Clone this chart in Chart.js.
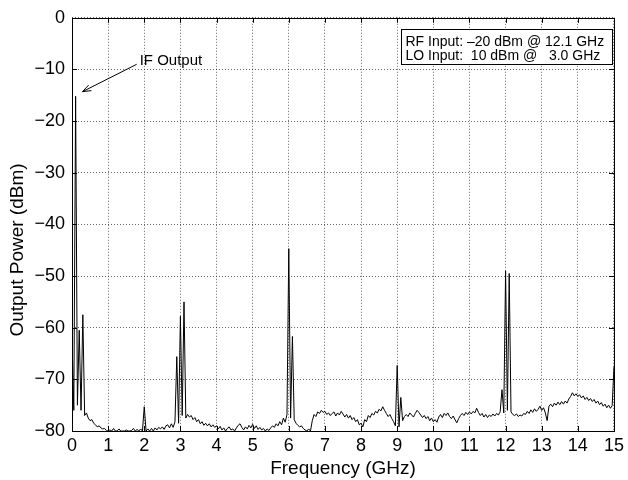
<!DOCTYPE html>
<html><head><meta charset="utf-8">
<script src="https://cdn.jsdelivr.net/npm/chart.js@4"></script>
<style>html,body{margin:0;padding:0;background:#fff}canvas{display:block}</style>
</head><body>
<canvas id="c" width="628" height="480"></canvas>
<script>
// Sample grid of the spectrum trace (GHz)
const freqStartGHz = 0;
const freqStepGHz = 0.05;
// Measured output power (dBm), one row per GHz (20 samples each), last value at 15 GHz
const powerDbm = [
  -62, -76, -15.2, -75, -60.5, -76, -57.5, -77, -76.5, -77.5, -78, -77.8, -78.5, -78.8, -79.2, -79, -79.4, -79.6, -79.5, -79.9,
  -80, -79.8, -80, -79.5, -80, -80, -79.6, -80, -80, -80, -79.8, -80, -80, -79.9, -79.5, -80, -79.7, -80, -79.6, -80,
  -75.3, -80, -79.6, -80, -79.5, -80, -79.4, -79.8, -79.3, -79.6, -79.2, -79.7, -79, -78.8, -79.4, -78.6, -79.3, -78.2, -65.6, -78.5,
  -57.8, -77, -55, -77.5, -76.8, -77.3, -77, -77.8, -77.4, -78.2, -77.8, -78.6, -78.2, -78.9, -78.5, -79, -78.6, -79.2, -78.8, -79.3,
  -79, -79.6, -79.1, -79.8, -79.4, -80, -79.5, -79.2, -79.8, -79.6, -80, -79.4, -78.9, -78.6, -79.3, -79.8, -79.2, -79.6, -78.9, -79.4,
  -78.7, -79.5, -79, -79.7, -79.3, -79.8, -79.5, -80, -79.6, -79.9, -79.4, -79, -79.3, -78.6, -79, -78.2, -78.8, -77.5, -78.3, -76.8,
  -44.7, -77.5, -61.7, -77.8, -78.5, -78.9, -79.2, -79, -79.5, -79.8, -80, -79.6, -80, -78, -76.8, -77.2, -76.3, -76.6, -76, -76.4,
  -76.2, -76.8, -76.5, -77, -76.6, -76.3, -77.1, -76.5, -76.9, -76.2, -76.7, -77.3, -76.8, -77.5, -77, -77.8, -77.4, -78.2, -77.8, -78.8,
  -78.5, -79.2, -77.8, -78.2, -77, -77.4, -76.6, -76.9, -76.2, -76.5, -75.8, -76.1, -75.3, -76, -76.6, -77.2, -76.8, -77.6, -78.2, -79,
  -67.3, -79.2, -73.5, -78, -77.2, -76.8, -77.2, -76.5, -76.9, -77.3, -76.6, -76, -76.4, -76.9, -77.4, -77, -77.6, -77.2, -78, -77.5,
  -78.2, -77.8, -78.3, -77.3, -76.8, -77.4, -76.6, -77, -76.5, -77.2, -77.6, -77.1, -77.8, -78.4, -77.6, -77, -76.6, -77, -76.4, -76.8,
  -76.3, -76.7, -76.2, -76.5, -75.6, -76.4, -77, -76.6, -77.3, -76.8, -77.4, -76.9, -77.2, -76.7, -77.1, -76.6, -76.9, -76.3, -72, -76.5,
  -49, -76, -49.5, -76.3, -76.8, -77, -76.7, -77.2, -76.9, -77.1, -76.6, -76.8, -76.2, -76.6, -75.9, -76.4, -75.7, -76.2, -75.8, -75.2,
  -76, -75.5, -76.5, -78, -75.2, -74.8, -75.3, -74.6, -75, -74.4, -74.9, -74.3, -74.8, -74.2, -74.6, -73.8, -73.3, -72.6, -73.2, -72.8,
  -73.3, -73, -73.6, -73.2, -73.9, -73.5, -74.1, -73.7, -74.3, -73.9, -74.6, -74.2, -74.9, -74.5, -75.2, -74.8, -75.5, -75, -75.6, -75.1,
  -67.5
];
const xTicks = [0, 1, 2, 3, 4, 5, 6, 7, 8, 9, 10, 11, 12, 13, 14, 15];
const yTicks = [0, -10, -20, -30, -40, -50, -60, -70, -80];
const xTitle = 'Frequency (GHz)';
const yTitle = 'Output Power (dBm)';
const infoLines = ['RF Input: \u201320 dBm @ 12.1 GHz', 'LO Input:  10 dBm @   3.0 GHz'];
const arrowLabel = 'IF Output';
const arrowTip = {x: 0.29, y: -14.3};
const arrowTail = {x: 1.79, y: -9.0};

const FONT = '"Liberation Sans", Arial, Helvetica, sans-serif';
const points = powerDbm.map((p, i) => ({x: +(freqStartGHz + i * freqStepGHz).toFixed(2), y: p}));

const decor = {
  id: 'decor',
  afterDatasetsDraw(chart) {
    const {ctx, chartArea: a, scales: {x, y}} = chart;
    ctx.save();
    ctx.strokeStyle = '#000';
    ctx.lineWidth = 1;
    // inward tick marks on all four sides
    ctx.beginPath();
    xTicks.forEach(v => {
      const px = Math.round(x.getPixelForValue(v)) + 0.5;
      ctx.moveTo(px, a.bottom); ctx.lineTo(px, a.bottom - 5);
      ctx.moveTo(px, a.top); ctx.lineTo(px, a.top + 5);
    });
    yTicks.forEach(v => {
      const py = Math.round(y.getPixelForValue(v)) + 0.5;
      ctx.moveTo(a.left, py); ctx.lineTo(a.left + 5, py);
      ctx.moveTo(a.right, py); ctx.lineTo(a.right - 5, py);
    });
    ctx.stroke();
    ctx.strokeRect(Math.round(a.left) + 0.5, Math.round(a.top) + 0.5, Math.round(a.right - a.left), Math.round(a.bottom - a.top));

    // info box
    const bx = 401.5, by = 29.5, bw = 211, bh = 35;
    ctx.fillStyle = '#fff';
    ctx.fillRect(bx, by, bw, bh);
    ctx.strokeRect(bx, by, bw, bh);
    ctx.fillStyle = '#000';
    ctx.font = '14px ' + FONT;
    ctx.textAlign = 'left';
    ctx.textBaseline = 'alphabetic';
    ctx.fillText(infoLines[0], bx + 4, by + 16);
    ctx.fillText(infoLines[1], bx + 4, by + 30.5);

    // arrow annotation
    const tx = x.getPixelForValue(arrowTip.x), ty = y.getPixelForValue(arrowTip.y);
    const sx = x.getPixelForValue(arrowTail.x), sy = y.getPixelForValue(arrowTail.y);
    ctx.beginPath();
    ctx.moveTo(sx, sy); ctx.lineTo(tx, ty);
    const ang = Math.atan2(ty - sy, tx - sx);
    const hl = 9, hw = 0.35;
    ctx.moveTo(tx - hl * Math.cos(ang - hw), ty - hl * Math.sin(ang - hw));
    ctx.lineTo(tx, ty);
    ctx.lineTo(tx - hl * Math.cos(ang + hw), ty - hl * Math.sin(ang + hw));
    ctx.stroke();
    ctx.font = '15px ' + FONT;
    ctx.fillText(arrowLabel, sx + 3, sy + 0.8);

    // y axis title
    ctx.font = '19px ' + FONT;
    ctx.textAlign = 'center';
    ctx.translate(23, 250);
    ctx.rotate(-Math.PI / 2);
    ctx.fillText(yTitle, 0, 0);
    ctx.restore();
  }
};

new Chart(document.getElementById('c'), {
  type: 'line',
  data: {
    datasets: [{
      data: points,
      borderColor: '#000',
      borderWidth: 1,
      pointRadius: 0,
      tension: 0,
      fill: false
    }]
  },
  options: {
    responsive: false,
    animation: false,
    devicePixelRatio: 1,
    layout: {padding: {left: 0, right: 12, top: 15, bottom: 0}},
    plugins: {legend: {display: false}, tooltip: {enabled: false}},
    scales: {
      x: {
        type: 'linear', min: 0, max: 15,
        afterBuildTicks: s => { s.ticks = xTicks.map(v => ({value: v})); },
        afterFit: s => { s.height = 49; },
        grid: {color: 'rgba(0,0,0,0.6)', drawTicks: false, lineWidth: 1, borderDash: [1, 2]},
        border: {display: false, dash: [1, 2]},
        ticks: {font: {family: FONT, size: 18}, color: '#000', padding: 4, maxRotation: 0, autoSkip: false},
        title: {display: true, text: xTitle, font: {family: FONT, size: 19}, color: '#000', padding: {top: 0, bottom: 0}}
      },
      y: {
        type: 'linear', min: -80, max: 0,
        afterBuildTicks: s => { s.ticks = yTicks.map(v => ({value: v})); },
        afterFit: s => { s.width = 72; },
        grid: {color: 'rgba(0,0,0,0.6)', drawTicks: false, lineWidth: 1, borderDash: [1, 2]},
        border: {display: false, dash: [1, 2]},
        ticks: {
          font: {family: FONT, size: 18}, color: '#000', padding: 7, autoSkip: false,
          callback: v => (v < 0 ? '\u2212' + Math.abs(v) : String(v))
        }
      }
    }
  },
  plugins: [decor]
});
</script>
</body></html>
